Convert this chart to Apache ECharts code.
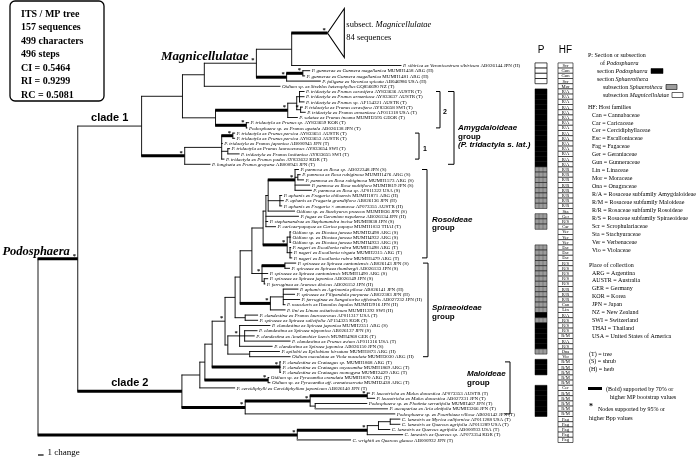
<!DOCTYPE html>
<html><head><meta charset="utf-8">
<script src="https://cdn.jsdelivr.net/npm/echarts@6/dist/echarts.min.js"></script>
<style>html,body{margin:0;padding:0;background:#fff}#c{width:700px;height:459px}</style>
</head><body><div id="c"></div>
<script>
// ================= DATA =================
const leafTaxa = [
"P. sibirica ex Veronicastrum sibiricum","P. gunnerae ex Gunnera magellanica","P. gunnerae ex Gunnera magellanica",
"P. fuligena ex Veronica spicata","Oidium sp. ex Streblus heterophyllus",
"P. tridactyla ex Prunus cerasifera","P. tridactyla ex Prunus armeniaca","P. tridactyla ex Prunus sp.",
"P. tridactyla ex Prunus cerasifera","P. tridactyla ex Prunus armeniaca","P. salatae ex Prunus incana",
"P. tridactyla ex Prunus sp.","Podosphaera sp. ex Prunus apetala",
"P. tridactyla ex Prunus persica","P. tridactyla ex Prunus persica","P. tridactyla ex Prunus japonica",
"P. tridactyla ex Prunus laurocerasus","P. tridactyla ex Prunus lusitanica","P. tridactyla ex Prunus padus",
"P. longiseta ex Prunus grayana",
"P. pannosa ex Rosa sp.","P. pannosa ex Rosa rubiginosa","P. pannosa ex Rosa rubiginosa","P. pannosa ex Rosa multiflora","P. pannosa ex Rosa sp.",
"P. aphanis ex Fragaria chiloensis","P. aphanis ex Fragaria grandiflora","P. aphanis ex Fragaria × ananassa",
"Oidium sp. ex Stachyurus praecox","P. fugax ex Geranium nepalense","P. stephanandrae ex Stephanandra incisa",
"P. caricae-papayae ex Carica papaya","Oidium sp. ex Diostea juncea","Oidium sp. ex Diostea juncea","Oidium sp. ex Diostea juncea",
"P. negeri ex Escallonia rubra","P. negeri ex Escallonia virgata","P. negeri ex Escallonia rubra",
"P. spiraeae ex Spiraea cantoniensis","P. spiraeae ex Spiraea thunbergii","P. spiraeae ex Spiraea cantoniensis",
"P. spiraeae ex Spiraea japonica","P. ferruginea ex Aruncus dioicus","P. aphanis ex Agrimonia pilosa",
"P. spiraeae ex Filipendula purpurea","P. ferruginea ex Sanguisorba officinalis","P. macularis ex Humulus lupulus",
"P. lini ex Linum usitatissimum","P. clandestina ex Prunus laurocerasus","P. spiraeae ex Spiraea salicifolia",
"P. clandestina ex Spiraea japonica","P. clandestina ex Spiraea nipponica","P. clandestina ex Amelanchier laevis",
"P. clandestina ex Prunus avium","P. clandestina ex Spiraea japonica","P. epilobii ex Epilobium hirsutum",
"Oidium maculatae ex Viola maculata","P. clandestina ex Crataegus sp.","P. clandestina ex Crataegus oxyacantha",
"P. clandestina ex Crataegus monogyna","Oidium sp. ex Pyracantha crenulata","Oidium sp. ex Pyracantha aff. crenatoserrata",
"P. cercidiphylli ex Cercidiphyllum japonicum","P. leucotricha ex Malus domestica","P. leucotricha ex Malus domestica",
"Podosphaera sp. ex Photinia serratifolia","P. aucupariae ex Aria alnifolia","Podosphaera sp. ex Pourthiaea villosa",
"C. lanestris ex Myrica californica","C. lanestris ex Quercus agrifolia","C. lanestris ex Quercus agrifolia",
"C. lanestris ex Quercus sp.","C. wrightii ex Quercus glauca"];
const leafAccession = [
"AB026144 JPN (H)","MUMH1458 ARG (H)","MUMH1481 ARG (H)","AB046986 USA (H)","GQ856690 NZ (T)",
"AY833636 AUSTR (T)","AY833637 AUSTR (T)","AF154321 AUSTR (T)","AY833658 SWI (T)","AF011318 USA (T)","MUMH2595 GEOR (T)",
"AY833659 KOR (T)","AB026138 JPN (T)","AY833651 AUSTR (T)","AY833653 AUSTR (T)","AB000945 JPN (T)",
"AY833654 SWI (T)","AY833655 SWI (T)","AY833632 KOR (T)","AB000943 JPN (T)",
"AB022348 JPN (S)","MUMH1476 ARG (S)","MUMH1573 ARG (S)","MUMH819 JPN (S)","AF011322 USA (S)",
"MUMH1871 ARG (H)","AB026136 JPN (H)","AF073355 AUSTR (H)","MUMH836 JPN (S)","AB026134 JPN (H)","MUMH838 JPN (S)",
"MUMH1033 THAI (T)","MUMH2498 ARG (S)","MUMH4932 ARG (S)","MUMH4933 ARG (S)",
"MUMH1498 ARG (T)","MUMH2315 ARG (T)","MUMH1479 ARG (T)",
"AB026143 JPN (S)","AB026133 JPN (S)","MUMH1490 ARG (S)","AB026149 JPN (S)","AB026152 JPN (H)","AB026141 JPN (H)",
"AB022383 JPN (H)","AB027232 JPN (H)","MUMH2916 JPN (H)","MUMH1392 SWI (H)","AF011317 USA (T)","AF154325 KOR (T)",
"MUMH2351 ARG (S)","AB026137 JPN (S)","MUMH4968 GER (T)","AF011316 USA (T)","AB026150 JPN (S)","MUMH1873 ARG (H)",
"MUMH3030 ARG (H)","MUMH1868 ARG (T)","MUMH1869 ARG (T)","MUMH2429 ARG (T)","MUMH1870 ARG (T)","MUMH2438 ARG (T)",
"AB026140 JPN (T)","AF073353 AUSTR (T)","AB027231 JPN (T)","MUMH467 JPN (T)","MUMH3266 JPN (T)","AB026142 JPN (T)",
"AF011288 USA (T)","AF011289 USA (T)","AB000933 USA (T)","AF073354 KOR (T)","AB000932 JPN (T)"];
// P column: M = subsect. Magnicellulatae, P = sect. Podosphaera, S = subsect. Sphaerotheca, '' = none
const sectionOfLeaf = ["M","M","M","M","",
"P","P","P","P","P","P","P","P","P","P","P","P","P","P","P",
"S","S","S","S","S","S","S","S","","S","S","S","","","",
"S","S","S","S","S","S","S","S","S","S","S","S","S","P","S",
"P","P","P","P","P","S","","P","P","P","","","P","P","P","P","P","P",
"","","","",""];
const hostFamily = ["Scr","Gun","Gun","Scr","Mor",
"R/A","R/A","R/A","R/A","R/A","R/A","R/A","R/A","R/A","R/A","R/A","R/A","R/A","R/A","R/A",
"R/R","R/R","R/R","R/R","R/R","R/R","R/R","R/R","Sta","Ger","R/S","Car","Ver","Ver","Ver",
"Esc","Esc","Esc","R/S","R/S","R/S","R/S","R/S","R/R","R/R","R/R","Can","Lin","R/A","R/S",
"R/S","R/S","R/M","R/A","R/S","Ona","Vio","R/M","R/M","R/M","R/M","R/M","Cer","R/M","R/M","R/M","R/M","R/M",
"Fag","Fag","Fag","Fag","Fag"];
// tree topology with branch lengths (changes); leaves are leaf indices, T = collapsed clade
// flags: b = bold (>=70% MP bootstrap), s = star (>=95% Bpp), g = grey branch
const cladeOne =
 "(((((T/bs:6.4,0:19.6):6.3,((1:1.3,2:0.4)bs:2.9,3:6.1)bs:5.4)s=Magnicellulatae:9.3,4:13.6):3.9," +
 "((((5:0.9,6:0.9,7:0.9):0.5,(8:0.4,9:0.9)s:0.7):1.6,10:1.8)bs:12.9,(11:0.5,12:0.2)bs:5.5):5.9):7.3," +
 "(((13:0.4,14:0.4)bs:2,15:0.2,(16:0.4,17:2.1):1.1,18:0.5):6.6,19:4.6)bs:7.7)~clade_1:11.4";
const cladeTwo =
 "((((((((((((20:0.7,(21:0.5,22:1.1):0.5,23:2.7,24:3)bs:4.8,(25:0.4,26:0.7,27:0.4):2.1,28:4.8):0.4," +
 "29:5.9,30:0.4,31:1.8):0.5,((32:0.2,33:0.2,34:0.2):0.5,(35:0.2,36:0.4,37:0.4):0.5)bs:4.3):2," +
 "((38:2,39:0.9)b:4.1,40:1.1,(41:0.7,42:0.2):0.4)s:1.8):2.1,((43:2.7,44:2.1,45:3,46:0.4):2.3,47:2.7)bs:5.4):0.9," +
 "(48:2.3,49:2.3):1.8):1.8,((50:5.5,(51:2.3,52:1.8,53:8.2):0.9,54:5.9)s:2.1,(55:5.4,56:7.3):3.9):0.5)s:2.3," +
 "(57:0.2,58:0.2,59:0.2)bs:12.1):1.3,(60:0.2,61:0.4)bs:11.3):0.9,62:6.3):3.2," +
 "(((63:0.5,64:1.4)bs:10.2,(65:9.3,66/g:13):0.9)bs:11.6,67:26.8)bs:11.3)b~clade_2:18.6";
const cystotheca = "((((68:1.8,69:1.8):2.1,70:2.1):2,71:6.4)bs:12.5,72/g:9.6)bs:46.3";
const collapsedClade = ["subsect. ", "Magnicellulatae", "84 sequences"];
const statsLines = ["ITS / MP tree","157 sequences","499 characters","496 steps","CI = 0.5464","RI = 0.9299","RC = 0.5081"];
const groupLabels = [["Amygdaloideae","group","(P. tridactyla s. lat.)"],["Rosoideae","group"],["Spiraeoideae","group"],["Maloideae","group"]];
const groupFirstRow = [5,20,38,57];
const groupLastRow = [19,37,56,67];
const subgroupLabels = ["2","1"];
const subgroupFirstRow = [5,13];
const subgroupLastRow = [12,18];
const sectionLegend = ["P: Section or subsection","of {i|Podosphaera}","section {i|Podosphaera}","section {i|Sphaerotheca}","subsection {i|Sphaerotheca}","subsection {i|Magnicellulatae}"];
const hostLegendTitle = "HF: Host families";
const hostLegend = ["Can = Cannabaceae","Car = Caricaceae","Cer = Cercidiphyllaceae","Esc = Escalloniaceae","Fag = Fagaceae","Ger = Geraniaceae","Gun = Gunneraceae","Lin = Linaceae","Mor = Moraceae","Ona = Onagraceae","R/A = Rosaceae subfamily Amygdaloideae","R/M = Rosaceae subfamily Maloideae","R/R = Rosaceae subfamily Rosoideae","R/S = Rosaceae subfamily Spiraeoideae","Scr = Scrophulariaceae","Sta = Stachyuraceae","Ver = Verbenaceae","Vio = Violaceae"];
const placeLegendTitle = "Place of collection";
const placeLegend = ["ARG = Argentina","AUSTR = Australia","GER = Germany","KOR = Korea","JPN = Japan","NZ = New Zealand","SWI = Switzerland","THAI = Thailand","USA = United States of America"];
const habitLegend = ["(T) = tree","(S) = shrub","(H) = herb"];
const supportLegend = ["(Bold) supported by 70% or","higher MP bootstrap values","Nodes supported by 95% or","higher Bpp values"];
const scaleBarChanges = 1;
const scaleBarLabel = "1 change";

// ================= LAYOUT / PARSE =================
const SERIF = "'Liberation Serif','Times New Roman',serif";
const SANS = "'Liberation Sans',Arial,sans-serif";
const COLLAPSED_ROW = -6.25, COLLAPSED_HALF = 4.7, COLLAPSED_W = 3;
const treeNewick = "((" + cladeOne + "," + cladeTwo + ")bs=Podosphaera:7.1," + cystotheca + ");";

function parseNewick(str){
  let i = 0;
  function node(parent){
    const n = {children:[], parent:parent, flags:'', id:null, name:null, nameStyle:null, len:0};
    if (str[i] === '('){
      i++;
      for(;;){
        n.children.push(node(n));
        if (str[i] === ','){ i++; continue; }
        if (str[i] === ')'){ i++; break; }
        throw new Error('bad newick at ' + i);
      }
    }
    let lab = '';
    while (i < str.length && ':,);'.indexOf(str[i]) < 0) lab += str[i++];
    if (str[i] === ':'){ i++; let num = ''; while (i < str.length && ',);'.indexOf(str[i]) < 0) num += str[i++]; n.len = parseFloat(num); }
    if (n.children.length === 0){ const p = lab.split('/'); n.id = p[0]; n.flags = p[1] || ''; }
    else { const m = lab.match(/^([a-z]*)([=~]?)(.*)$/); n.flags = m[1]; if (m[2]) { n.nameStyle = m[2]; n.name = m[3].replace(/_/g,' '); } }
    return n;
  }
  return node(null);
}
const tree = parseNewick(treeNewick);
const nodes = [];
(function place(n, baseX){
  n.x = baseX + n.len;
  nodes.push(n);
  n.children.forEach(c => place(c, n.x));
  if (n.children.length) n.y = (n.children[0].y + n.children[n.children.length-1].y) / 2;
  else n.y = n.id === 'T' ? COLLAPSED_ROW : Number(n.id);
})(tree, 0);

function renderTree(params, api){
  const n = nodes[params.dataIndex];
  const els = [];
  const P = api.coord([n.x, n.y]);
  const grey = n.flags.indexOf('g') >= 0, bold = n.flags.indexOf('b') >= 0;
  if (n.parent){
    const Q = api.coord([n.parent.x, n.y]);
    els.push({type:'line', shape:{x1:Q[0]-0.4, y1:P[1], x2:P[0], y2:P[1]},
      style:{stroke: grey ? '#777' : '#000', lineWidth: bold ? 3 : (grey ? 1.6 : 0.9)}});
  }
  if (n.children.length){
    const a = api.coord([n.x, n.children[0].y]), b = api.coord([n.x, n.children[n.children.length-1].y]);
    els.push({type:'line', shape:{x1:P[0], y1:a[1]-0.4, x2:P[0], y2:b[1]+0.4}, style:{stroke:'#000', lineWidth:0.9}});
  }
  if (n.flags.indexOf('s') >= 0){
    els.push({type:'text', x:P[0]-3.5, y:P[1]-2.6, style:{text:'*', fontSize:6.5, fontWeight:'bold', fontFamily:SERIF, fill:'#000', align:'center', verticalAlign:'middle'}});
  }
  if (n.id === 'T'){
    const top = api.coord([n.x + COLLAPSED_W, n.y - COLLAPSED_HALF]);
    const bot = api.coord([n.x + COLLAPSED_W, n.y + COLLAPSED_HALF]);
    els.push({type:'polygon', shape:{points:[P, top, bot]}, style:{fill:'#fff', stroke:'#000', lineWidth:1.1}});
    els.push({type:'text', x:top[0]+2, y:P[1]-8, style:{text:collapsedClade[0] + '{i|' + collapsedClade[1] + '}', rich:{i:{fontStyle:'italic', fontSize:8.5, fontFamily:SERIF}}, fontSize:8.5, fontFamily:SERIF, fill:'#000', verticalAlign:'middle'}});
    els.push({type:'text', x:top[0]+2, y:P[1]+5, style:{text:collapsedClade[2], fontSize:8.5, fontFamily:SERIF, fill:'#000', verticalAlign:'middle'}});
  } else if (n.id !== null){
    const k = Number(n.id);
    els.push({type:'text', x:P[0]+1.5, y:P[1]+0.3, style:{text:'{i|' + leafTaxa[k] + '} ' + leafAccession[k],
      rich:{i:{fontStyle:'italic', fontSize:5, fontFamily:SERIF}}, fontSize:5, fontFamily:SERIF, fill:'#000', verticalAlign:'middle'}});
  }
  if (n.name){
    if (n.nameStyle === '='){
      els.push({type:'text', x:P[0]-8, y:P[1]-0.5, style:{text:n.name, fontSize: n.parent && n.parent.parent ? 13 : 12.5, fontWeight:'bold', fontStyle:'italic', fontFamily:SERIF, fill:'#000', align:'right', verticalAlign:'bottom'}});
    } else {
      const Q = api.coord([n.parent.x, n.y]);
      els.push({type:'text', x:(P[0]+Q[0])/2, y:P[1]-3, style:{text:n.name, fontSize:11, fontWeight:'bold', fontFamily:SANS, fill:'#000', align:'center', verticalAlign:'bottom'}});
    }
  }
  return {type:'group', children:els};
}

const P_X = 535, P_W = 12, HF_X = 558, HF_W = 15;
function renderColumns(params, api){
  const r = api.value(1);
  const y0 = api.coord([0, r-0.5])[1], y1 = api.coord([0, r+0.5])[1];
  const els = [];
  const s = sectionOfLeaf[r];
  if (s === 'P') els.push({type:'rect', shape:{x:P_X, y:y0, width:P_W, height:y1-y0}, style:{fill:'#000', stroke:'#000', lineWidth:0.5}});
  else if (s === 'S') {
    els.push({type:'rect', shape:{x:P_X, y:y0, width:P_W, height:y1-y0}, style:{fill:'#9c9c9c', stroke:'#000', lineWidth:0.5}});
    els.push({type:'line', shape:{x1:P_X+4, y1:y0, x2:P_X+4, y2:y1}, style:{stroke:'#444', lineWidth:0.4}});
    els.push({type:'line', shape:{x1:P_X+8, y1:y0, x2:P_X+8, y2:y1}, style:{stroke:'#444', lineWidth:0.4}});
  }
  else if (s === 'M') els.push({type:'rect', shape:{x:P_X, y:y0, width:P_W, height:y1-y0}, style:{fill:'#fff', stroke:'#000', lineWidth:0.7}});
  els.push({type:'rect', shape:{x:HF_X, y:y0, width:HF_W, height:y1-y0}, style:{fill:'#fff', stroke:'#000', lineWidth:0.6}});
  els.push({type:'text', x:HF_X+HF_W/2, y:(y0+y1)/2+0.3, style:{text:hostFamily[r], fontSize:4.6, fontFamily:SERIF, fill:'#000', align:'center', verticalAlign:'middle'}});
  return {type:'group', children:els};
}

// bracket layout: [bracketX, tickLen, labelX, labelOffsetPx]
const groupLayout = [[454,6,458,8.6],[427,5,432,10],[428,5,432,2.6],[510,5,467,-9.4]];
const subgroupLayout = [[440,4,443,2],[419,4,423,3]];
function renderBracket(params, api){
  const i = params.dataIndex;
  const isSub = api.value(2) === 1;
  const first = api.value(0), last = api.value(1);
  const lay = isSub ? subgroupLayout[i - groupLabels.length] : groupLayout[i];
  const a = api.coord([0, first])[1], b = api.coord([0, last])[1];
  const X = lay[0], t = lay[1];
  const els = [
    {type:'polyline', shape:{points:[[X-t,a],[X,a],[X,b],[X-t,b]]}, style:{stroke:'#000', lineWidth:1, fill:null}}
  ];
  const mid = (a+b)/2 + lay[3];
  if (isSub){
    els.push({type:'text', x:lay[2], y:mid, style:{text:subgroupLabels[i - groupLabels.length], fontSize:7, fontWeight:'bold', fontFamily:SANS, fill:'#000', verticalAlign:'middle'}});
  } else {
    const lines = groupLabels[i], lh = 8.6;
    lines.forEach((ln, j) => {
      els.push({type:'text', x:lay[2], y:mid + (j - (lines.length-1)/2)*lh, style:{text:ln, fontSize:8, fontWeight:'bold', fontStyle: ln === 'group' ? 'normal' : 'italic', fontFamily:SANS, fill:'#000', verticalAlign:'middle'}});
    });
  }
  return {type:'group', children:els};
}

function renderScale(params, api){
  const a = api.coord([0, 72]), b = api.coord([api.value(0), 72]);
  const y = 455;
  return {type:'group', children:[
    {type:'line', shape:{x1:a[0], y1:y, x2:b[0], y2:y}, style:{stroke:'#000', lineWidth:1.2}},
    {type:'text', x:b[0]+4, y:y-2, style:{text:scaleBarLabel, fontSize:9, fontFamily:SERIF, fill:'#000', verticalAlign:'middle'}}
  ]};
}

// ================= GRAPHIC (box + legend) =================
const graphic = [];
graphic.push({type:'rect', shape:{x:10, y:1, width:94, height:100, r:5}, style:{fill:'#fff', stroke:'#000', lineWidth:1.3}});
statsLines.forEach((t, j) => graphic.push({type:'text', x:21, y:14 + j*13.5, style:{text:t, fontSize:10, fontWeight:'bold', fontFamily:SERIF, fill:'#000', verticalAlign:'middle'}}));
graphic.push({type:'text', x:541, y:50, style:{text:'P', fontSize:10, fontFamily:SANS, fill:'#000', align:'center', verticalAlign:'middle'}});
graphic.push({type:'text', x:565.5, y:50, style:{text:'HF', fontSize:10, fontFamily:SANS, fill:'#000', align:'center', verticalAlign:'middle'}});
const LF = 6;
function legendText(t, x, y){
  graphic.push({type:'text', x:x, y:y, style:{text:t, rich:{i:{fontStyle:'italic', fontSize:LF, fontFamily:SERIF}}, fontSize:LF, fontFamily:SERIF, fill:'#000', verticalAlign:'middle'}});
}
const secX = [588, 600, 597, 597, 603, 603];
sectionLegend.forEach((t, j) => legendText(t, secX[j], 55 + j*8));
graphic.push({type:'rect', shape:{x:651, y:68.5, width:12, height:5}, style:{fill:'#000', stroke:'#000', lineWidth:0.5}});
graphic.push({type:'rect', shape:{x:666, y:84.5, width:11, height:5}, style:{fill:'#9c9c9c', stroke:'#000', lineWidth:0.6}});
graphic.push({type:'rect', shape:{x:672, y:92.5, width:11, height:5}, style:{fill:'#fff', stroke:'#000', lineWidth:0.6}});
legendText(hostLegendTitle, 588, 107);
hostLegend.forEach((t, j) => legendText(t, 592, 115 + j*7.94));
legendText(placeLegendTitle, 589, 265);
placeLegend.forEach((t, j) => legendText(t, 592, 273 + j*7.9));
habitLegend.forEach((t, j) => legendText(t, 589, 354 + j*7.6));
graphic.push({type:'line', shape:{x1:588, y1:388.5, x2:602, y2:388.5}, style:{stroke:'#000', lineWidth:3}});
legendText(supportLegend[0], 606, 389);
legendText(supportLegend[1], 610, 397.5);
graphic.push({type:'text', x:591, y:407, style:{text:'*', fontSize:8, fontWeight:'bold', fontFamily:SERIF, fill:'#000', align:'center', verticalAlign:'middle'}});
legendText(supportLegend[2], 598, 409);
legendText(supportLegend[3], 589, 418.5);

// ================= CHART =================
const chart = echarts.init(document.getElementById('c'), null, {renderer:'canvas'});
const bracketData = groupFirstRow.map((f, i) => [f, groupLastRow[i], 0])
  .concat(subgroupFirstRow.map((f, i) => [f, subgroupLastRow[i], 1]));
chart.setOption({
  animation:false,
  backgroundColor:'#fff',
  grid:{left:38, top:65.5, width:336, height:374.4},
  xAxis:{type:'value', min:0, max:60, show:false},
  yAxis:{type:'value', min:0, max:72, inverse:true, show:false},
  graphic:graphic,
  series:[
    {type:'custom', coordinateSystem:'cartesian2d', clip:false, silent:true, renderItem:renderTree,
     data:nodes.map(n => [n.x, n.y]), encode:{x:0, y:1}},
    {type:'custom', coordinateSystem:'cartesian2d', clip:false, silent:true, renderItem:renderColumns,
     data:leafTaxa.map((_, i) => [0, i]), encode:{x:0, y:1}},
    {type:'custom', coordinateSystem:'cartesian2d', clip:false, silent:true, renderItem:renderBracket,
     data:bracketData, encode:{y:[0,1]}},
    {type:'custom', coordinateSystem:'cartesian2d', clip:false, silent:true, renderItem:renderScale,
     data:[[scaleBarChanges, 72]], encode:{x:0, y:1}}
  ]
});
</script></body></html>
